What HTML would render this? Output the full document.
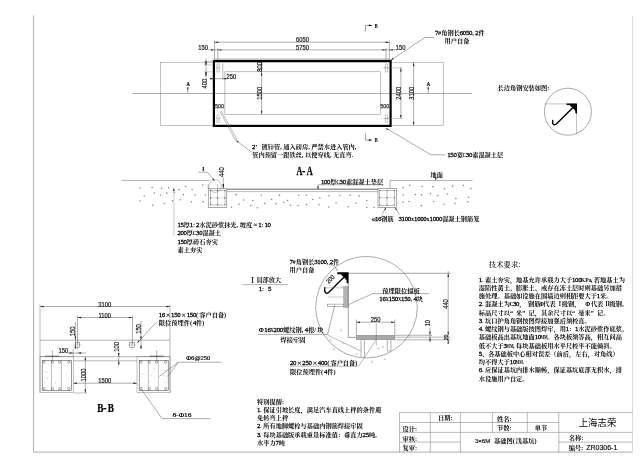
<!DOCTYPE html>
<html lang="zh"><head><meta charset="utf-8"><title>3×6M 基础图(浅基坑)</title>
<style>
html,body{margin:0;padding:0;background:#fff;}
svg{display:block;will-change:transform;}
text{white-space:pre;}
</style></head>
<body>
<svg width="640" height="464" viewBox="0 0 640 464">
<rect x="0" y="0" width="640" height="464" fill="#fff"/>
<line x1="33.60" y1="15.50" x2="33.60" y2="452.10" stroke="#adadad" stroke-width="1.0" />
<line x1="33.10" y1="452.10" x2="632.50" y2="452.10" stroke="#adadad" stroke-width="1.0" />
<line x1="632.50" y1="16.00" x2="632.50" y2="452.25" stroke="#d6d6d6" stroke-width="0.9" />
<rect x="160.50" y="62.20" width="283.00" height="63.30" fill="none" stroke="#858585" stroke-width="0.5"/>
<line x1="132.00" y1="93.50" x2="471.80" y2="93.50" stroke="#606060" stroke-width="0.5" />
<rect x="213.90" y="61.00" width="176.70" height="64.90" fill="none" stroke="#000" stroke-width="2.2"/>
<line x1="214.60" y1="59.00" x2="390.00" y2="59.00" stroke="#444" stroke-width="0.4" />
<rect x="224.90" y="71.80" width="155.50" height="42.50" fill="none" stroke="#808080" stroke-width="0.5"/>
<line x1="214.60" y1="40.50" x2="214.60" y2="60.00" stroke="#5a5a5a" stroke-width="0.5" />
<line x1="389.30" y1="40.50" x2="389.30" y2="60.00" stroke="#5a5a5a" stroke-width="0.5" />
<line x1="214.60" y1="42.20" x2="389.30" y2="42.20" stroke="#5a5a5a" stroke-width="0.5" />
<polygon points="214.60,42.20 218.20,41.48 218.20,42.92" fill="#111"/>
<polygon points="389.30,42.20 385.70,42.92 385.70,41.48" fill="#111"/>
<line x1="217.80" y1="48.00" x2="217.80" y2="60.00" stroke="#5a5a5a" stroke-width="0.5" />
<line x1="386.00" y1="48.00" x2="386.00" y2="60.00" stroke="#5a5a5a" stroke-width="0.5" />
<line x1="208.50" y1="49.90" x2="397.00" y2="49.90" stroke="#5a5a5a" stroke-width="0.5" />
<polygon points="214.60,49.90 211.00,50.62 211.00,49.18" fill="#111"/>
<polygon points="217.80,49.90 221.40,49.18 221.40,50.62" fill="#111"/>
<polygon points="386.00,49.90 382.40,50.62 382.40,49.18" fill="#111"/>
<polygon points="389.30,49.90 392.90,49.18 392.90,50.62" fill="#111"/>
<text transform="translate(302.50,39.60) scale(0.88,1)" x="0" y="2.38" font-size="6.6" text-anchor="middle" font-weight="400" font-family="'Liberation Sans','Noto Sans CJK SC',sans-serif" fill="#111" stroke="#111" stroke-width="0.18">6050</text>
<text transform="translate(302.50,47.50) scale(0.88,1)" x="0" y="2.38" font-size="6.6" text-anchor="middle" font-weight="400" font-family="'Liberation Sans','Noto Sans CJK SC',sans-serif" fill="#111" stroke="#111" stroke-width="0.18">5750</text>
<text transform="translate(203.20,47.60) scale(0.88,1)" x="0" y="2.38" font-size="6.6" text-anchor="middle" font-weight="400" font-family="'Liberation Sans','Noto Sans CJK SC',sans-serif" fill="#111" stroke="#111" stroke-width="0.18">150</text>
<text transform="translate(400.70,47.20) scale(0.88,1)" x="0" y="2.38" font-size="6.6" text-anchor="middle" font-weight="400" font-family="'Liberation Sans','Noto Sans CJK SC',sans-serif" fill="#111" stroke="#111" stroke-width="0.18">150</text>
<line x1="206.00" y1="58.50" x2="206.00" y2="79.00" stroke="#5a5a5a" stroke-width="0.5" />
<polygon points="206.00,61.20 206.72,64.80 205.28,64.80" fill="#111"/>
<polygon points="206.00,64.90 205.28,61.30 206.72,61.30" fill="#111"/>
<polygon points="206.00,71.80 206.72,75.40 205.28,75.40" fill="#111"/>
<polygon points="206.00,75.50 205.28,71.90 206.72,71.90" fill="#111"/>
<line x1="204.00" y1="61.20" x2="213.00" y2="61.20" stroke="#666" stroke-width="0.4" />
<line x1="204.00" y1="64.90" x2="212.00" y2="64.90" stroke="#888" stroke-width="0.4" />
<line x1="204.00" y1="71.80" x2="212.00" y2="71.80" stroke="#888" stroke-width="0.4" />
<text transform="translate(204.40,83.60) rotate(-90) scale(0.88,1)" x="0" y="2.38" font-size="6.6" text-anchor="middle" font-weight="400" font-family="'Liberation Sans','Noto Sans CJK SC',sans-serif" fill="#111" stroke="#111" stroke-width="0.18">400</text>
<line x1="222.80" y1="63.50" x2="222.80" y2="80.00" stroke="#555" stroke-width="0.4" />
<line x1="210.00" y1="78.70" x2="226.00" y2="78.70" stroke="#5a5a5a" stroke-width="0.5" />
<polygon points="213.80,78.70 210.20,79.42 210.20,77.98" fill="#111"/>
<polygon points="222.80,78.70 226.40,77.98 226.40,79.42" fill="#111"/>
<text transform="translate(231.30,76.60) scale(0.88,1)" x="0" y="2.38" font-size="6.6" text-anchor="middle" font-weight="400" font-family="'Liberation Sans','Noto Sans CJK SC',sans-serif" fill="#111" stroke="#111" stroke-width="0.18">250</text>
<line x1="217.00" y1="64.00" x2="217.00" y2="72.30" stroke="#666" stroke-width="0.4" />
<line x1="217.00" y1="115.00" x2="217.00" y2="122.50" stroke="#666" stroke-width="0.4" />
<line x1="219.20" y1="64.00" x2="219.20" y2="72.30" stroke="#666" stroke-width="0.4" />
<line x1="219.20" y1="115.00" x2="219.20" y2="122.50" stroke="#666" stroke-width="0.4" />
<line x1="385.40" y1="64.00" x2="385.40" y2="72.30" stroke="#666" stroke-width="0.4" />
<line x1="385.40" y1="115.00" x2="385.40" y2="122.50" stroke="#666" stroke-width="0.4" />
<line x1="387.60" y1="64.00" x2="387.60" y2="72.30" stroke="#666" stroke-width="0.4" />
<line x1="387.60" y1="115.00" x2="387.60" y2="122.50" stroke="#666" stroke-width="0.4" />
<line x1="215.50" y1="67.80" x2="220.70" y2="67.80" stroke="#888" stroke-width="0.35" />
<line x1="217.00" y1="63.80" x2="219.20" y2="63.80" stroke="#888" stroke-width="0.35" />
<line x1="217.00" y1="71.80" x2="219.20" y2="71.80" stroke="#888" stroke-width="0.35" />
<line x1="215.50" y1="118.50" x2="220.70" y2="118.50" stroke="#888" stroke-width="0.35" />
<line x1="217.00" y1="114.50" x2="219.20" y2="114.50" stroke="#888" stroke-width="0.35" />
<line x1="217.00" y1="122.50" x2="219.20" y2="122.50" stroke="#888" stroke-width="0.35" />
<line x1="383.90" y1="67.80" x2="389.10" y2="67.80" stroke="#888" stroke-width="0.35" />
<line x1="385.40" y1="63.80" x2="387.60" y2="63.80" stroke="#888" stroke-width="0.35" />
<line x1="385.40" y1="71.80" x2="387.60" y2="71.80" stroke="#888" stroke-width="0.35" />
<line x1="383.90" y1="118.50" x2="389.10" y2="118.50" stroke="#888" stroke-width="0.35" />
<line x1="385.40" y1="114.50" x2="387.60" y2="114.50" stroke="#888" stroke-width="0.35" />
<line x1="385.40" y1="122.50" x2="387.60" y2="122.50" stroke="#888" stroke-width="0.35" />
<line x1="261.60" y1="62.00" x2="261.60" y2="71.80" stroke="#5a5a5a" stroke-width="0.5" />
<polygon points="261.60,62.00 262.32,65.60 260.88,65.60" fill="#111"/>
<polygon points="261.60,71.80 260.88,68.20 262.32,68.20" fill="#111"/>
<line x1="261.60" y1="71.80" x2="261.60" y2="114.30" stroke="#5a5a5a" stroke-width="0.5" />
<polygon points="261.60,71.80 262.32,75.40 260.88,75.40" fill="#111"/>
<polygon points="261.60,114.30 260.88,110.70 262.32,110.70" fill="#111"/>
<text transform="translate(259.30,66.80) rotate(-90) scale(0.88,1)" x="0" y="2.38" font-size="6.6" text-anchor="middle" font-weight="400" font-family="'Liberation Sans','Noto Sans CJK SC',sans-serif" fill="#111" stroke="#111" stroke-width="0.18">800</text>
<text transform="translate(259.30,93.30) rotate(-90) scale(0.88,1)" x="0" y="2.38" font-size="6.6" text-anchor="middle" font-weight="400" font-family="'Liberation Sans','Noto Sans CJK SC',sans-serif" fill="#111" stroke="#111" stroke-width="0.18">1500</text>
<line x1="383.50" y1="67.80" x2="402.50" y2="67.80" stroke="#888" stroke-width="0.4" />
<line x1="383.50" y1="118.50" x2="402.50" y2="118.50" stroke="#888" stroke-width="0.4" />
<line x1="400.90" y1="67.80" x2="400.90" y2="118.50" stroke="#5a5a5a" stroke-width="0.5" />
<polygon points="400.90,67.80 401.62,71.40 400.18,71.40" fill="#111"/>
<polygon points="400.90,118.50 400.18,114.90 401.62,114.90" fill="#111"/>
<text transform="translate(398.60,93.30) rotate(-90) scale(0.88,1)" x="0" y="2.38" font-size="6.6" text-anchor="middle" font-weight="400" font-family="'Liberation Sans','Noto Sans CJK SC',sans-serif" fill="#111" stroke="#111" stroke-width="0.18">2400</text>
<line x1="413.60" y1="62.40" x2="413.60" y2="125.50" stroke="#5a5a5a" stroke-width="0.5" />
<polygon points="413.60,62.40 414.32,66.00 412.88,66.00" fill="#111"/>
<polygon points="413.60,125.50 412.88,121.90 414.32,121.90" fill="#111"/>
<text transform="translate(411.80,93.30) rotate(-90) scale(0.88,1)" x="0" y="2.38" font-size="6.6" text-anchor="middle" font-weight="400" font-family="'Liberation Sans','Noto Sans CJK SC',sans-serif" fill="#111" stroke="#111" stroke-width="0.18">3100</text>
<text transform="translate(219.60,105.70) scale(0.88,1)" x="0" y="2.23" font-size="6.2" text-anchor="middle" font-weight="400" font-family="'Liberation Sans','Noto Sans CJK SC',sans-serif" fill="#111" stroke="#111" stroke-width="0.18">500</text>
<text transform="translate(384.80,105.60) scale(0.88,1)" x="0" y="2.23" font-size="6.2" text-anchor="middle" font-weight="400" font-family="'Liberation Sans','Noto Sans CJK SC',sans-serif" fill="#111" stroke="#111" stroke-width="0.18">500</text>
<line x1="215.00" y1="108.30" x2="224.90" y2="108.30" stroke="#888" stroke-width="0.4" />
<line x1="380.40" y1="108.30" x2="389.50" y2="108.30" stroke="#888" stroke-width="0.4" />
<text transform="translate(188.10,84.00) scale(0.8,1)" x="0" y="2.09" font-size="5.8" text-anchor="middle" font-weight="700" font-family="'Liberation Serif','Noto Serif CJK SC',serif" fill="#000" stroke="#000" stroke-width="0.2">A</text>
<line x1="187.80" y1="86.80" x2="187.80" y2="93.50" stroke="#5a5a5a" stroke-width="0.5" />
<polygon points="187.80,90.40 187.10,87.40 188.50,87.40" fill="#111"/>
<text transform="translate(428.50,84.00) scale(0.8,1)" x="0" y="2.09" font-size="5.8" text-anchor="middle" font-weight="700" font-family="'Liberation Serif','Noto Serif CJK SC',serif" fill="#000" stroke="#000" stroke-width="0.2">A</text>
<line x1="428.20" y1="86.80" x2="428.20" y2="93.50" stroke="#5a5a5a" stroke-width="0.5" />
<polygon points="428.20,90.40 427.50,87.40 428.90,87.40" fill="#111"/>
<polyline points="365.40,31.60 365.40,25.40 369.50,25.40" fill="none" stroke="#444" stroke-width="0.55" />
<polygon points="372.70,25.40 368.90,26.20 368.90,24.60" fill="#000"/>
<text transform="translate(376.20,25.50) scale(0.7,1)" x="0" y="2.45" font-size="6.8" text-anchor="middle" font-weight="700" font-family="'Liberation Serif','Noto Serif CJK SC',serif" fill="#000" >B</text>
<polyline points="365.40,133.40 365.40,140.10 369.50,140.10" fill="none" stroke="#444" stroke-width="0.55" />
<polygon points="372.70,140.10 368.90,140.90 368.90,139.30" fill="#000"/>
<text transform="translate(376.20,139.60) scale(0.7,1)" x="0" y="2.45" font-size="6.8" text-anchor="middle" font-weight="700" font-family="'Liberation Serif','Noto Serif CJK SC',serif" fill="#000" >B</text>
<polyline points="391.00,60.00 425.00,37.50 434.00,37.50" fill="none" stroke="#5a5a5a" stroke-width="0.5" />
<polygon points="391.00,60.00 392.77,57.96 393.57,59.17" fill="#111"/>
<g transform="translate(435.00,32.60)" font-size="6.22" font-weight="700" font-family="'Liberation Serif','Noto Serif CJK SC',serif" fill="#000" >
<text x="-0.12" y="2.24" font-size="6.84" font-weight="400" stroke="#000" stroke-width="0.26">7</text>
<text x="3.11" y="2.24">#</text>
<text x="6.22 12.44 18.66" y="2.24 2.24 2.24">角钢长</text>
<text x="24.76 27.87 30.98 34.09" y="2.24" font-size="6.84" font-weight="400" stroke="#000" stroke-width="0.26">6050</text>
<text x="37.32" y="2.24">,</text>
<text x="40.31" y="2.24" font-size="6.84" font-weight="400" stroke="#000" stroke-width="0.26">2</text>
<text x="43.54" y="2.24">件</text>
</g>
<g transform="translate(457.00,40.40)" font-size="6.22" font-weight="700" font-family="'Liberation Serif','Noto Serif CJK SC',serif" fill="#000" >
<text x="-12.44 -6.22 0.00 6.22" y="2.24 2.24 2.24 2.24">用户自备</text>
</g>
<polyline points="386.00,128.20 431.00,154.80 445.50,154.80" fill="none" stroke="#5a5a5a" stroke-width="0.5" />
<polygon points="386.00,128.20 388.60,128.90 387.87,130.14" fill="#111"/>
<g transform="translate(447.30,154.80)" font-size="6.22" font-weight="700" font-family="'Liberation Serif','Noto Serif CJK SC',serif" fill="#000" >
<text x="-0.12 2.99 6.10" y="2.24" font-size="6.84" font-weight="400" stroke="#000" stroke-width="0.26">150</text>
<text x="9.33" y="2.24">宽</text>
<text x="15.30" y="2.24" textLength="3.61" lengthAdjust="spacingAndGlyphs">C</text>
<text x="18.54 21.65" y="2.24" font-size="6.84" font-weight="400" stroke="#000" stroke-width="0.26">30</text>
<text x="24.88 31.10 37.32 43.54 49.76" y="2.24 2.24 2.24 2.24 2.24">素混凝土层</text>
</g>
<line x1="220.00" y1="111.50" x2="235.30" y2="140.20" stroke="#666" stroke-width="0.45" />
<line x1="221.40" y1="111.00" x2="236.80" y2="139.40" stroke="#666" stroke-width="0.45" />
<line x1="235.30" y1="140.20" x2="236.80" y2="139.40" stroke="#666" stroke-width="0.45" />
<polyline points="236.20,140.60 250.00,151.00 251.50,151.00" fill="none" stroke="#5a5a5a" stroke-width="0.5" />
<polygon points="236.20,140.60 238.71,141.59 237.84,142.74" fill="#111"/>
<g transform="translate(252.20,146.80)" font-size="6.22" font-weight="700" font-family="'Liberation Serif','Noto Serif CJK SC',serif" fill="#000" >
<text x="-0.12" y="2.24" font-size="6.84" font-weight="400" stroke="#000" stroke-width="0.26">2</text>
<text x="3.11 6.22 9.33 15.55 21.77 27.99 31.10 37.32 43.54 49.76 55.98 59.09 65.31 71.53 77.75 83.97 90.19 96.41 102.63" y="2.24 2.24 2.24 2.24 2.24 2.24 2.24 2.24 2.24 2.24 2.24 2.24 2.24 2.24 2.24 2.24 2.24 2.24 2.24">’ 镀锌管,通入磅房,严禁水进入管内,</text>
</g>
<g transform="translate(252.20,154.60)" font-size="6.22" font-weight="700" font-family="'Liberation Serif','Noto Serif CJK SC',serif" fill="#000" >
<text x="0.00 6.22 12.44 18.66 24.88 31.10 37.32 43.54 49.76 52.87 59.09 65.31 71.53 77.75 80.86 87.08 93.30 99.52" y="2.24 2.24 2.24 2.24 2.24 2.24 2.24 2.24 2.24 2.24 2.24 2.24 2.24 2.24 2.24 2.24 2.24 2.24">管内预留一跟铁丝,以便穿线,无直弯.</text>
</g>
<g transform="translate(497.50,88.20)" font-size="6.22" font-weight="700" font-family="'Liberation Serif','Noto Serif CJK SC',serif" fill="#000" >
<text x="0.00 6.22 12.44 18.66 24.88 31.10 37.32 43.54 49.76" y="2.24 2.24 2.24 2.24 2.24 2.24 2.24 2.24 2.24">长边角钢安装如图:</text>
</g>
<circle cx="567.90" cy="111.70" r="23.50" fill="none" stroke="#555" stroke-width="0.5"/>
<polyline points="544.60,103.90 576.50,103.90 576.50,133.80" fill="none" stroke="#777" stroke-width="0.45" />
<polygon points="566.6,103.4 577,103.4 577,113.6 575.4,113.6 575.4,109.5 571,105 566.6,105" fill="#000"/>
<polygon points="568.5,104 576.6,104 576.6,112" fill="#000"/>
<path d="M575.2,105.2 L556.6,123.8 Q554.6,125.6 553.2,124 Q552.2,122.8 552.8,120.4" fill="none" stroke="#000" stroke-width="1.4" stroke-linecap="round"/>
<g transform="translate(304.60,170.70) scale(0.86,1)" font-size="12" font-weight="700" font-family="'Liberation Serif','Noto Serif CJK SC',serif" fill="#000" stroke="#000" stroke-width="0.25">
<text x="-9.48" y="4.32" textLength="6.96" lengthAdjust="spacingAndGlyphs">A</text>
<text x="-3.00" y="4.32">-</text>
<text x="2.52" y="4.32" textLength="6.96" lengthAdjust="spacingAndGlyphs">A</text>
</g>
<line x1="122.00" y1="180.50" x2="209.60" y2="180.50" stroke="#6a6a6a" stroke-width="0.5" />
<line x1="390.00" y1="180.50" x2="472.50" y2="180.50" stroke="#6a6a6a" stroke-width="0.5" />
<circle cx="215.00" cy="186.10" r="6.30" fill="none" stroke="#777" stroke-width="0.45"/>
<rect x="208.20" y="188.80" width="18.60" height="18.50" fill="none" stroke="#555" stroke-width="0.5"/>
<rect x="210.30" y="190.40" width="14.70" height="14.60" fill="none" stroke="#777" stroke-width="0.45"/>
<line x1="217.60" y1="184.00" x2="217.60" y2="205.00" stroke="#777" stroke-width="0.45" />
<line x1="210.30" y1="197.90" x2="225.00" y2="197.90" stroke="#999" stroke-width="0.4" />
<line x1="208.20" y1="184.50" x2="208.20" y2="188.80" stroke="#555" stroke-width="0.45" />
<circle cx="210.50" cy="190.60" r="0.55" fill="#333" stroke="none" stroke-width="0"/>
<circle cx="210.50" cy="197.90" r="0.55" fill="#333" stroke="none" stroke-width="0"/>
<circle cx="210.50" cy="204.80" r="0.55" fill="#333" stroke="none" stroke-width="0"/>
<circle cx="217.60" cy="190.60" r="0.55" fill="#333" stroke="none" stroke-width="0"/>
<circle cx="217.60" cy="197.90" r="0.55" fill="#333" stroke="none" stroke-width="0"/>
<circle cx="217.60" cy="204.80" r="0.55" fill="#333" stroke="none" stroke-width="0"/>
<circle cx="224.80" cy="190.60" r="0.55" fill="#333" stroke="none" stroke-width="0"/>
<circle cx="224.80" cy="197.90" r="0.55" fill="#333" stroke="none" stroke-width="0"/>
<circle cx="224.80" cy="204.80" r="0.55" fill="#333" stroke="none" stroke-width="0"/>
<line x1="226.80" y1="189.20" x2="378.00" y2="189.20" stroke="#555" stroke-width="0.9" />
<line x1="226.80" y1="191.60" x2="378.00" y2="191.60" stroke="#666" stroke-width="0.45" />
<rect x="378.00" y="188.60" width="18.30" height="18.70" fill="none" stroke="#555" stroke-width="0.5"/>
<rect x="379.60" y="190.30" width="15.00" height="15.00" fill="none" stroke="#777" stroke-width="0.45"/>
<line x1="387.00" y1="190.30" x2="387.00" y2="205.30" stroke="#777" stroke-width="0.45" />
<line x1="379.60" y1="197.80" x2="394.60" y2="197.80" stroke="#999" stroke-width="0.4" />
<line x1="390.00" y1="180.50" x2="390.00" y2="188.60" stroke="#555" stroke-width="0.45" />
<circle cx="379.80" cy="190.50" r="0.55" fill="#333" stroke="none" stroke-width="0"/>
<circle cx="379.80" cy="197.80" r="0.55" fill="#333" stroke="none" stroke-width="0"/>
<circle cx="379.80" cy="205.00" r="0.55" fill="#333" stroke="none" stroke-width="0"/>
<circle cx="387.00" cy="190.50" r="0.55" fill="#333" stroke="none" stroke-width="0"/>
<circle cx="387.00" cy="197.80" r="0.55" fill="#333" stroke="none" stroke-width="0"/>
<circle cx="387.00" cy="205.00" r="0.55" fill="#333" stroke="none" stroke-width="0"/>
<circle cx="394.40" cy="190.50" r="0.55" fill="#333" stroke="none" stroke-width="0"/>
<circle cx="394.40" cy="197.80" r="0.55" fill="#333" stroke="none" stroke-width="0"/>
<circle cx="394.40" cy="205.00" r="0.55" fill="#333" stroke="none" stroke-width="0"/>
<text transform="translate(203.30,168.60)" x="0" y="2.38" font-size="6.6" text-anchor="middle" font-weight="700" font-family="'Liberation Serif','Noto Serif CJK SC',serif" fill="#000" >I</text>
<polyline points="198.20,172.20 207.60,172.20 214.40,180.90" fill="none" stroke="#5a5a5a" stroke-width="0.5" />
<polygon points="214.40,180.90 212.29,179.37 213.43,178.49" fill="#111"/>
<line x1="223.30" y1="177.40" x2="223.30" y2="188.80" stroke="#5a5a5a" stroke-width="0.5" />
<polygon points="223.30,188.80 222.50,184.30 224.10,184.30" fill="#000"/>
<text transform="translate(221.20,172.20) rotate(-90) scale(0.88,1)" x="0" y="2.38" font-size="6.6" text-anchor="middle" font-weight="400" font-family="'Liberation Sans','Noto Sans CJK SC',sans-serif" fill="#111" stroke="#111" stroke-width="0.18">440</text>
<line x1="173.90" y1="188.00" x2="173.90" y2="236.00" stroke="#8a8a8a" stroke-width="0.45" />
<polygon points="173.90,187.50 174.60,190.90 173.20,190.90" fill="#111"/>
<g transform="translate(177.50,224.80)" font-size="6.22" font-weight="700" font-family="'Liberation Serif','Noto Serif CJK SC',serif" fill="#000" >
<text x="-0.12 2.99" y="2.24" font-size="6.84" font-weight="400" stroke="#000" stroke-width="0.26">15</text>
<text x="6.22" y="2.24">厚</text>
<text x="12.32" y="2.24" font-size="6.84" font-weight="400" stroke="#000" stroke-width="0.26">1</text>
<text x="15.55" y="2.24">:</text>
<text x="18.54" y="2.24" font-size="6.84" font-weight="400" stroke="#000" stroke-width="0.26">2</text>
<text x="21.77 27.99 34.21 40.43 46.65 52.87 59.09 62.20 68.42 75.88" y="2.24 2.24 2.24 2.24 2.24 2.24 2.24 2.24 2.24 2.24">水泥砂浆抹光,坡度≈</text>
<text x="80.74" y="2.24" font-size="6.84" font-weight="400" stroke="#000" stroke-width="0.26">1</text>
<text x="83.97" y="2.24">:</text>
<text x="86.96 90.07" y="2.24" font-size="6.84" font-weight="400" stroke="#000" stroke-width="0.26">10</text>
</g>
<g transform="translate(177.50,233.05)" font-size="6.22" font-weight="700" font-family="'Liberation Serif','Noto Serif CJK SC',serif" fill="#000" >
<text x="-0.12 2.99 6.10" y="2.24" font-size="6.84" font-weight="400" stroke="#000" stroke-width="0.26">200</text>
<text x="9.33" y="2.24">厚</text>
<text x="15.30" y="2.24" textLength="3.61" lengthAdjust="spacingAndGlyphs">C</text>
<text x="18.54 21.65" y="2.24" font-size="6.84" font-weight="400" stroke="#000" stroke-width="0.26">30</text>
<text x="24.88 31.10 37.32" y="2.24 2.24 2.24">混凝土</text>
</g>
<g transform="translate(177.50,241.30)" font-size="6.22" font-weight="700" font-family="'Liberation Serif','Noto Serif CJK SC',serif" fill="#000" >
<text x="-0.12 2.99 6.10" y="2.24" font-size="6.84" font-weight="400" stroke="#000" stroke-width="0.26">150</text>
<text x="9.33 15.55 21.77 27.99 34.21" y="2.24 2.24 2.24 2.24 2.24">厚碎石夯实</text>
</g>
<g transform="translate(177.50,249.55)" font-size="6.22" font-weight="700" font-family="'Liberation Serif','Noto Serif CJK SC',serif" fill="#000" >
<text x="0.00 6.22 12.44 18.66" y="2.24 2.24 2.24 2.24">素土夯实</text>
</g>
<g transform="translate(321.00,181.80)" font-size="6.22" font-weight="700" font-family="'Liberation Serif','Noto Serif CJK SC',serif" fill="#000" >
<text x="-0.12 2.99 6.10" y="2.24" font-size="6.84" font-weight="400" stroke="#000" stroke-width="0.26">100</text>
<text x="9.33" y="2.24">厚</text>
<text x="15.30" y="2.24" textLength="3.61" lengthAdjust="spacingAndGlyphs">C</text>
<text x="18.54 21.65" y="2.24" font-size="6.84" font-weight="400" stroke="#000" stroke-width="0.26">30</text>
<text x="24.88 31.10 37.32 43.54 49.76 55.98" y="2.24 2.24 2.24 2.24 2.24 2.24">素混凝土垫层</text>
</g>
<polyline points="318.00,189.00 318.00,184.80 383.60,184.80" fill="none" stroke="#5a5a5a" stroke-width="0.5" />
<polygon points="318.00,189.40 317.28,186.60 318.72,186.60" fill="#111"/>
<g transform="translate(436.80,174.80)" font-size="6.22" font-weight="700" font-family="'Liberation Serif','Noto Serif CJK SC',serif" fill="#000" >
<text x="-6.22 0.00" y="2.24 2.24">地面</text>
</g>
<polygon points="435.80,180.50 435.00,177.90 436.60,177.90" fill="#111"/>
<line x1="386.20" y1="207.30" x2="382.00" y2="214.20" stroke="#5a5a5a" stroke-width="0.5" />
<polygon points="386.20,207.30 385.15,210.17 384.12,209.55" fill="#111"/>
<line x1="395.00" y1="207.30" x2="399.40" y2="214.60" stroke="#5a5a5a" stroke-width="0.5" />
<polygon points="395.00,207.30 397.06,209.56 396.03,210.18" fill="#111"/>
<g transform="translate(372.00,219.20)" font-size="6.22" font-weight="700" font-family="'Liberation Serif','Noto Serif CJK SC',serif" fill="#000" >
<text x="0.00" y="2.24">φ</text>
<text x="2.99 6.10" y="2.24" font-size="6.84" font-weight="400" stroke="#000" stroke-width="0.26">16</text>
<text x="9.33 15.55" y="2.24 2.24">钢筋</text>
</g>
<g transform="translate(398.60,219.20)" font-size="6.22" font-weight="700" font-family="'Liberation Serif','Noto Serif CJK SC',serif" fill="#000" >
<text x="-0.12 2.99 6.10 9.21" y="2.24" font-size="6.84" font-weight="400" stroke="#000" stroke-width="0.26">3100</text>
<text x="12.44" y="2.24">x</text>
<text x="15.43 18.54 21.65 24.76" y="2.24" font-size="6.84" font-weight="400" stroke="#000" stroke-width="0.26">1000</text>
<text x="27.99" y="2.24">x</text>
<text x="30.98 34.09 37.20 40.31" y="2.24" font-size="6.84" font-weight="400" stroke="#000" stroke-width="0.26">1000</text>
<text x="43.54 49.76 55.98 62.20 68.42 74.64" y="2.24 2.24 2.24 2.24 2.24 2.24">混凝土钢筋笼</text>
</g>
<circle cx="139.85" cy="188.03" r="0.78" fill="#858585" stroke="none" stroke-width="0"/>
<circle cx="152.08" cy="187.46" r="0.78" fill="#858585" stroke="none" stroke-width="0"/>
<circle cx="161.48" cy="188.19" r="0.78" fill="#858585" stroke="none" stroke-width="0"/>
<circle cx="168.69" cy="187.74" r="0.78" fill="#858585" stroke="none" stroke-width="0"/>
<circle cx="178.92" cy="189.42" r="0.78" fill="#858585" stroke="none" stroke-width="0"/>
<circle cx="185.51" cy="186.49" r="0.78" fill="#858585" stroke="none" stroke-width="0"/>
<circle cx="192.08" cy="189.52" r="0.78" fill="#858585" stroke="none" stroke-width="0"/>
<circle cx="202.74" cy="184.92" r="0.78" fill="#858585" stroke="none" stroke-width="0"/>
<circle cx="144.20" cy="195.92" r="0.78" fill="#858585" stroke="none" stroke-width="0"/>
<circle cx="154.34" cy="192.94" r="0.78" fill="#858585" stroke="none" stroke-width="0"/>
<circle cx="160.39" cy="195.17" r="0.78" fill="#858585" stroke="none" stroke-width="0"/>
<circle cx="166.74" cy="193.14" r="0.78" fill="#858585" stroke="none" stroke-width="0"/>
<circle cx="174.34" cy="192.18" r="0.78" fill="#858585" stroke="none" stroke-width="0"/>
<circle cx="183.44" cy="194.64" r="0.78" fill="#858585" stroke="none" stroke-width="0"/>
<circle cx="195.12" cy="195.11" r="0.78" fill="#858585" stroke="none" stroke-width="0"/>
<circle cx="205.43" cy="195.00" r="0.78" fill="#858585" stroke="none" stroke-width="0"/>
<circle cx="139.89" cy="201.00" r="0.78" fill="#858585" stroke="none" stroke-width="0"/>
<circle cx="152.62" cy="205.31" r="0.78" fill="#858585" stroke="none" stroke-width="0"/>
<circle cx="164.28" cy="203.58" r="0.78" fill="#858585" stroke="none" stroke-width="0"/>
<circle cx="172.38" cy="200.71" r="0.78" fill="#858585" stroke="none" stroke-width="0"/>
<circle cx="180.29" cy="199.75" r="0.78" fill="#858585" stroke="none" stroke-width="0"/>
<circle cx="191.45" cy="201.74" r="0.78" fill="#858585" stroke="none" stroke-width="0"/>
<circle cx="203.16" cy="201.65" r="0.78" fill="#858585" stroke="none" stroke-width="0"/>
<circle cx="236.20" cy="194.63" r="0.78" fill="#858585" stroke="none" stroke-width="0"/>
<circle cx="243.58" cy="200.09" r="0.78" fill="#858585" stroke="none" stroke-width="0"/>
<circle cx="252.72" cy="200.51" r="0.78" fill="#858585" stroke="none" stroke-width="0"/>
<circle cx="261.38" cy="195.06" r="0.78" fill="#858585" stroke="none" stroke-width="0"/>
<circle cx="271.61" cy="199.30" r="0.78" fill="#858585" stroke="none" stroke-width="0"/>
<circle cx="279.39" cy="195.15" r="0.78" fill="#858585" stroke="none" stroke-width="0"/>
<circle cx="287.60" cy="200.41" r="0.78" fill="#858585" stroke="none" stroke-width="0"/>
<circle cx="298.71" cy="195.33" r="0.78" fill="#858585" stroke="none" stroke-width="0"/>
<circle cx="306.33" cy="195.23" r="0.78" fill="#858585" stroke="none" stroke-width="0"/>
<circle cx="312.69" cy="199.41" r="0.78" fill="#858585" stroke="none" stroke-width="0"/>
<circle cx="319.85" cy="197.98" r="0.78" fill="#858585" stroke="none" stroke-width="0"/>
<circle cx="328.84" cy="195.77" r="0.78" fill="#858585" stroke="none" stroke-width="0"/>
<circle cx="339.77" cy="195.41" r="0.78" fill="#858585" stroke="none" stroke-width="0"/>
<circle cx="350.10" cy="195.32" r="0.78" fill="#858585" stroke="none" stroke-width="0"/>
<circle cx="358.91" cy="195.90" r="0.78" fill="#858585" stroke="none" stroke-width="0"/>
<circle cx="366.69" cy="200.45" r="0.78" fill="#858585" stroke="none" stroke-width="0"/>
<circle cx="231.59" cy="207.18" r="0.78" fill="#858585" stroke="none" stroke-width="0"/>
<circle cx="238.97" cy="204.24" r="0.78" fill="#858585" stroke="none" stroke-width="0"/>
<circle cx="250.73" cy="205.73" r="0.78" fill="#858585" stroke="none" stroke-width="0"/>
<circle cx="257.36" cy="207.81" r="0.78" fill="#858585" stroke="none" stroke-width="0"/>
<circle cx="264.76" cy="203.42" r="0.78" fill="#858585" stroke="none" stroke-width="0"/>
<circle cx="275.96" cy="203.85" r="0.78" fill="#858585" stroke="none" stroke-width="0"/>
<circle cx="283.93" cy="202.32" r="0.78" fill="#858585" stroke="none" stroke-width="0"/>
<circle cx="290.49" cy="205.37" r="0.78" fill="#858585" stroke="none" stroke-width="0"/>
<circle cx="298.09" cy="205.48" r="0.78" fill="#858585" stroke="none" stroke-width="0"/>
<circle cx="306.57" cy="204.59" r="0.78" fill="#858585" stroke="none" stroke-width="0"/>
<circle cx="319.04" cy="204.78" r="0.78" fill="#858585" stroke="none" stroke-width="0"/>
<circle cx="328.90" cy="207.07" r="0.78" fill="#858585" stroke="none" stroke-width="0"/>
<circle cx="336.09" cy="202.80" r="0.78" fill="#858585" stroke="none" stroke-width="0"/>
<circle cx="348.22" cy="206.78" r="0.78" fill="#858585" stroke="none" stroke-width="0"/>
<circle cx="355.87" cy="203.01" r="0.78" fill="#858585" stroke="none" stroke-width="0"/>
<circle cx="366.85" cy="207.52" r="0.78" fill="#858585" stroke="none" stroke-width="0"/>
<circle cx="374.13" cy="207.58" r="0.78" fill="#858585" stroke="none" stroke-width="0"/>
<circle cx="403.13" cy="187.61" r="0.78" fill="#858585" stroke="none" stroke-width="0"/>
<circle cx="409.79" cy="185.32" r="0.78" fill="#858585" stroke="none" stroke-width="0"/>
<circle cx="422.28" cy="186.51" r="0.78" fill="#858585" stroke="none" stroke-width="0"/>
<circle cx="433.02" cy="186.63" r="0.78" fill="#858585" stroke="none" stroke-width="0"/>
<circle cx="444.57" cy="188.66" r="0.78" fill="#858585" stroke="none" stroke-width="0"/>
<circle cx="452.52" cy="186.14" r="0.78" fill="#858585" stroke="none" stroke-width="0"/>
<circle cx="463.37" cy="185.50" r="0.78" fill="#858585" stroke="none" stroke-width="0"/>
<circle cx="470.87" cy="188.44" r="0.78" fill="#858585" stroke="none" stroke-width="0"/>
<circle cx="403.22" cy="194.93" r="0.78" fill="#858585" stroke="none" stroke-width="0"/>
<circle cx="415.41" cy="194.47" r="0.78" fill="#858585" stroke="none" stroke-width="0"/>
<circle cx="421.47" cy="194.87" r="0.78" fill="#858585" stroke="none" stroke-width="0"/>
<circle cx="430.45" cy="193.61" r="0.78" fill="#858585" stroke="none" stroke-width="0"/>
<circle cx="437.60" cy="195.46" r="0.78" fill="#858585" stroke="none" stroke-width="0"/>
<circle cx="447.44" cy="194.04" r="0.78" fill="#858585" stroke="none" stroke-width="0"/>
<circle cx="455.85" cy="198.60" r="0.78" fill="#858585" stroke="none" stroke-width="0"/>
<circle cx="468.47" cy="197.19" r="0.78" fill="#858585" stroke="none" stroke-width="0"/>
<circle cx="402.97" cy="202.26" r="0.78" fill="#858585" stroke="none" stroke-width="0"/>
<circle cx="409.16" cy="201.52" r="0.78" fill="#858585" stroke="none" stroke-width="0"/>
<circle cx="421.30" cy="205.62" r="0.78" fill="#858585" stroke="none" stroke-width="0"/>
<circle cx="433.79" cy="201.54" r="0.78" fill="#858585" stroke="none" stroke-width="0"/>
<circle cx="444.07" cy="204.31" r="0.78" fill="#858585" stroke="none" stroke-width="0"/>
<circle cx="454.99" cy="203.33" r="0.78" fill="#858585" stroke="none" stroke-width="0"/>
<circle cx="467.73" cy="201.87" r="0.78" fill="#858585" stroke="none" stroke-width="0"/>
<line x1="40.00" y1="304.50" x2="40.00" y2="393.00" stroke="#707070" stroke-width="0.5" />
<line x1="170.00" y1="304.50" x2="170.00" y2="393.00" stroke="#707070" stroke-width="0.5" />
<line x1="40.00" y1="306.50" x2="170.00" y2="306.50" stroke="#5a5a5a" stroke-width="0.5" />
<polygon points="40.00,306.50 43.60,305.78 43.60,307.22" fill="#111"/>
<polygon points="170.00,306.50 166.40,307.22 166.40,305.78" fill="#111"/>
<text transform="translate(104.80,304.40) scale(0.88,1)" x="0" y="2.38" font-size="6.6" text-anchor="middle" font-weight="400" font-family="'Liberation Sans','Noto Sans CJK SC',sans-serif" fill="#111" stroke="#111" stroke-width="0.18">3100</text>
<line x1="77.50" y1="315.50" x2="77.50" y2="344.50" stroke="#5a5a5a" stroke-width="0.5" />
<line x1="132.50" y1="315.50" x2="132.50" y2="344.50" stroke="#5a5a5a" stroke-width="0.5" />
<line x1="77.50" y1="317.50" x2="132.50" y2="317.50" stroke="#5a5a5a" stroke-width="0.5" />
<polygon points="77.50,317.50 81.10,316.78 81.10,318.22" fill="#111"/>
<polygon points="132.50,317.50 128.90,318.22 128.90,316.78" fill="#111"/>
<text transform="translate(104.80,315.20) scale(0.88,1)" x="0" y="2.38" font-size="6.6" text-anchor="middle" font-weight="400" font-family="'Liberation Sans','Noto Sans CJK SC',sans-serif" fill="#111" stroke="#111" stroke-width="0.18">1100</text>
<line x1="40.00" y1="340.20" x2="170.00" y2="340.20" stroke="#606060" stroke-width="0.5" />
<line x1="40.00" y1="356.70" x2="170.00" y2="356.70" stroke="#686868" stroke-width="0.5" />
<line x1="73.20" y1="360.80" x2="137.00" y2="360.80" stroke="#707070" stroke-width="0.5" />
<text transform="translate(73.00,331.40) rotate(-90) scale(0.88,1)" x="0" y="2.38" font-size="6.6" text-anchor="middle" font-weight="400" font-family="'Liberation Sans','Noto Sans CJK SC',sans-serif" fill="#111" stroke="#111" stroke-width="0.18">150</text>
<line x1="75.40" y1="322.00" x2="75.40" y2="349.00" stroke="#5a5a5a" stroke-width="0.5" />
<polygon points="75.40,340.20 74.68,336.60 76.12,336.60" fill="#111"/>
<polygon points="75.40,344.60 76.12,348.20 74.68,348.20" fill="#111"/>
<text transform="translate(139.00,329.00) rotate(-90) scale(0.88,1)" x="0" y="2.38" font-size="6.6" text-anchor="middle" font-weight="400" font-family="'Liberation Sans','Noto Sans CJK SC',sans-serif" fill="#111" stroke="#111" stroke-width="0.18">150</text>
<line x1="141.00" y1="321.00" x2="141.00" y2="349.00" stroke="#5a5a5a" stroke-width="0.5" />
<polygon points="141.00,340.20 140.28,336.60 141.72,336.60" fill="#111"/>
<polygon points="141.00,344.60 141.72,348.20 140.28,348.20" fill="#111"/>
<rect x="75.30" y="342.60" width="4.40" height="5.00" fill="none" stroke="#444" stroke-width="0.45"/>
<line x1="73.50" y1="345.00" x2="81.50" y2="345.00" stroke="#777" stroke-width="0.35" />
<line x1="77.50" y1="340.50" x2="77.50" y2="350.00" stroke="#777" stroke-width="0.35" />
<rect x="129.80" y="342.60" width="4.40" height="5.00" fill="none" stroke="#444" stroke-width="0.45"/>
<line x1="128.00" y1="345.00" x2="136.00" y2="345.00" stroke="#777" stroke-width="0.35" />
<line x1="132.00" y1="340.50" x2="132.00" y2="350.00" stroke="#777" stroke-width="0.35" />
<text transform="translate(63.40,351.00) scale(0.88,1)" x="0" y="2.38" font-size="6.6" text-anchor="middle" font-weight="400" font-family="'Liberation Sans','Noto Sans CJK SC',sans-serif" fill="#111" stroke="#111" stroke-width="0.18">150</text>
<line x1="68.00" y1="353.00" x2="86.00" y2="353.00" stroke="#5a5a5a" stroke-width="0.5" />
<polygon points="73.20,353.00 69.60,353.72 69.60,352.28" fill="#111"/>
<polygon points="77.50,353.00 81.10,352.28 81.10,353.72" fill="#111"/>
<line x1="73.20" y1="349.00" x2="73.20" y2="356.70" stroke="#555" stroke-width="0.4" />
<text transform="translate(116.80,346.80) rotate(-90) scale(0.88,1)" x="0" y="2.38" font-size="6.6" text-anchor="middle" font-weight="400" font-family="'Liberation Sans','Noto Sans CJK SC',sans-serif" fill="#111" stroke="#111" stroke-width="0.18">100</text>
<line x1="118.80" y1="352.60" x2="118.80" y2="365.60" stroke="#5a5a5a" stroke-width="0.5" />
<polygon points="118.80,356.70 118.08,353.10 119.52,353.10" fill="#111"/>
<polygon points="118.80,360.60 119.52,364.20 118.08,364.20" fill="#111"/>
<rect x="40.00" y="356.70" width="33.20" height="35.90" fill="none" stroke="#777" stroke-width="0.45"/>
<rect x="42.20" y="360.40" width="29.20" height="30.20" fill="none" stroke="#333" stroke-width="0.5"/>
<line x1="51.49" y1="360.40" x2="51.49" y2="390.60" stroke="#666" stroke-width="0.4" />
<line x1="61.51" y1="360.40" x2="61.51" y2="390.60" stroke="#666" stroke-width="0.4" />
<circle cx="44.08" cy="362.00" r="1.20" fill="none" stroke="#333" stroke-width="0.4"/>
<circle cx="44.08" cy="388.60" r="1.20" fill="none" stroke="#333" stroke-width="0.4"/>
<circle cx="52.38" cy="362.00" r="1.20" fill="none" stroke="#333" stroke-width="0.4"/>
<circle cx="52.38" cy="388.60" r="1.20" fill="none" stroke="#333" stroke-width="0.4"/>
<circle cx="59.69" cy="362.00" r="1.20" fill="none" stroke="#333" stroke-width="0.4"/>
<circle cx="59.69" cy="388.60" r="1.20" fill="none" stroke="#333" stroke-width="0.4"/>
<circle cx="68.78" cy="362.00" r="1.20" fill="none" stroke="#333" stroke-width="0.4"/>
<circle cx="68.78" cy="388.60" r="1.20" fill="none" stroke="#333" stroke-width="0.4"/>
<circle cx="55.56" cy="382.68" r="0.45" fill="#777" stroke="none" stroke-width="0"/>
<circle cx="44.80" cy="371.37" r="0.45" fill="#777" stroke="none" stroke-width="0"/>
<circle cx="68.24" cy="378.62" r="0.45" fill="#777" stroke="none" stroke-width="0"/>
<circle cx="47.23" cy="372.62" r="0.45" fill="#777" stroke="none" stroke-width="0"/>
<circle cx="66.17" cy="374.37" r="0.45" fill="#777" stroke="none" stroke-width="0"/>
<circle cx="44.72" cy="383.03" r="0.45" fill="#777" stroke="none" stroke-width="0"/>
<circle cx="47.27" cy="378.18" r="0.45" fill="#777" stroke="none" stroke-width="0"/>
<rect x="137.00" y="356.70" width="33.00" height="35.90" fill="none" stroke="#777" stroke-width="0.45"/>
<rect x="139.20" y="360.40" width="29.00" height="30.20" fill="none" stroke="#333" stroke-width="0.5"/>
<line x1="148.42" y1="360.40" x2="148.42" y2="390.60" stroke="#666" stroke-width="0.4" />
<line x1="158.38" y1="360.40" x2="158.38" y2="390.60" stroke="#666" stroke-width="0.4" />
<circle cx="141.06" cy="362.00" r="1.20" fill="none" stroke="#333" stroke-width="0.4"/>
<circle cx="141.06" cy="388.60" r="1.20" fill="none" stroke="#333" stroke-width="0.4"/>
<circle cx="149.31" cy="362.00" r="1.20" fill="none" stroke="#333" stroke-width="0.4"/>
<circle cx="149.31" cy="388.60" r="1.20" fill="none" stroke="#333" stroke-width="0.4"/>
<circle cx="156.57" cy="362.00" r="1.20" fill="none" stroke="#333" stroke-width="0.4"/>
<circle cx="156.57" cy="388.60" r="1.20" fill="none" stroke="#333" stroke-width="0.4"/>
<circle cx="165.61" cy="362.00" r="1.20" fill="none" stroke="#333" stroke-width="0.4"/>
<circle cx="165.61" cy="388.60" r="1.20" fill="none" stroke="#333" stroke-width="0.4"/>
<circle cx="142.81" cy="373.79" r="0.45" fill="#777" stroke="none" stroke-width="0"/>
<circle cx="165.76" cy="370.39" r="0.45" fill="#777" stroke="none" stroke-width="0"/>
<circle cx="149.72" cy="381.59" r="0.45" fill="#777" stroke="none" stroke-width="0"/>
<circle cx="163.50" cy="375.79" r="0.45" fill="#777" stroke="none" stroke-width="0"/>
<circle cx="165.04" cy="381.95" r="0.45" fill="#777" stroke="none" stroke-width="0"/>
<circle cx="154.14" cy="368.59" r="0.45" fill="#777" stroke="none" stroke-width="0"/>
<circle cx="151.68" cy="375.85" r="0.45" fill="#777" stroke="none" stroke-width="0"/>
<line x1="52.40" y1="350.20" x2="52.40" y2="361.40" stroke="#555" stroke-width="0.45" />
<line x1="45.40" y1="356.20" x2="59.40" y2="356.20" stroke="#444" stroke-width="0.8" />
<line x1="156.70" y1="350.20" x2="156.70" y2="361.40" stroke="#555" stroke-width="0.45" />
<line x1="149.70" y1="356.20" x2="163.70" y2="356.20" stroke="#444" stroke-width="0.8" />
<line x1="85.30" y1="356.70" x2="85.30" y2="393.00" stroke="#5a5a5a" stroke-width="0.5" />
<polygon points="85.30,356.70 86.02,360.30 84.58,360.30" fill="#111"/>
<polygon points="85.30,393.00 84.58,389.40 86.02,389.40" fill="#111"/>
<text transform="translate(83.20,375.00) rotate(-90) scale(0.88,1)" x="0" y="2.38" font-size="6.6" text-anchor="middle" font-weight="400" font-family="'Liberation Sans','Noto Sans CJK SC',sans-serif" fill="#111" stroke="#111" stroke-width="0.18">1000</text>
<line x1="73.20" y1="393.00" x2="87.00" y2="393.00" stroke="#666" stroke-width="0.4" />
<line x1="73.20" y1="383.20" x2="137.00" y2="383.20" stroke="#5a5a5a" stroke-width="0.5" />
<polygon points="73.20,383.20 76.80,382.48 76.80,383.92" fill="#111"/>
<polygon points="137.00,383.20 133.40,383.92 133.40,382.48" fill="#111"/>
<text transform="translate(104.80,380.60) scale(0.88,1)" x="0" y="2.38" font-size="6.6" text-anchor="middle" font-weight="400" font-family="'Liberation Sans','Noto Sans CJK SC',sans-serif" fill="#111" stroke="#111" stroke-width="0.18">1500</text>
<g transform="translate(105.60,407.40) scale(0.88,1)" font-size="12" font-weight="700" font-family="'Liberation Serif','Noto Serif CJK SC',serif" fill="#000" stroke="#000" stroke-width="0.25">
<text x="-9.48" y="4.32" textLength="6.96" lengthAdjust="spacingAndGlyphs">B</text>
<text x="-3.00" y="4.32">-</text>
<text x="2.52" y="4.32" textLength="6.96" lengthAdjust="spacingAndGlyphs">B</text>
</g>
<polyline points="137.20,342.80 157.00,321.70" fill="none" stroke="#5a5a5a" stroke-width="0.5" />
<polygon points="137.20,342.80 138.45,340.41 139.50,341.39" fill="#111"/>
<g transform="translate(158.80,315.20)" font-size="6.22" font-weight="700" font-family="'Liberation Serif','Noto Serif CJK SC',serif" fill="#000" >
<text x="-0.12 2.99" y="2.24" font-size="6.84" font-weight="400" stroke="#000" stroke-width="0.26">16</text>
<text x="6.97" y="2.86"><tspan font-size="8.40">×</tspan></text>
<text x="12.32 15.43 18.54" y="2.24" font-size="6.84" font-weight="400" stroke="#000" stroke-width="0.26">150</text>
<text x="22.52" y="2.86"><tspan font-size="8.40">×</tspan></text>
<text x="27.87 30.98 34.09" y="2.24" font-size="6.84" font-weight="400" stroke="#000" stroke-width="0.26">150</text>
<text x="37.32 40.43 46.65 52.87 59.09 65.31" y="2.24 2.24 2.24 2.24 2.24 2.24">(客户自备)</text>
</g>
<g transform="translate(158.80,323.20)" font-size="6.22" font-weight="700" font-family="'Liberation Serif','Noto Serif CJK SC',serif" fill="#000" >
<text x="0.00 6.22 12.44 18.66 24.88 31.10" y="2.24 2.24 2.24 2.24 2.24 2.24">限位预埋件(</text>
<text x="34.09" y="2.24" font-size="6.84" font-weight="400" stroke="#000" stroke-width="0.26">4</text>
<text x="37.32 43.54" y="2.24 2.24">件)</text>
</g>
<line x1="178.50" y1="362.20" x2="221.20" y2="362.20" stroke="#5a5a5a" stroke-width="0.5" />
<line x1="178.50" y1="362.20" x2="159.30" y2="376.40" stroke="#5a5a5a" stroke-width="0.5" />
<line x1="178.50" y1="362.20" x2="167.60" y2="376.40" stroke="#5a5a5a" stroke-width="0.5" />
<text transform="translate(186.30,357.50) scale(0.94,1)" x="0" y="2.52" font-size="7.0" text-anchor="start" font-weight="400" font-family="'Liberation Serif','Noto Serif CJK SC',serif" fill="#000" stroke="#000" stroke-width="0.2">Φ6@250</text>
<polyline points="141.20,389.20 162.00,418.60 210.50,418.60" fill="none" stroke="#5a5a5a" stroke-width="0.5" />
<text transform="translate(172.50,414.40) scale(1.06,1)" x="0" y="2.52" font-size="7.0" text-anchor="start" font-weight="400" font-family="'Liberation Serif','Noto Serif CJK SC',serif" fill="#000" stroke="#000" stroke-width="0.2">8-Φ16</text>
<text transform="translate(252.60,280.00)" x="0" y="2.88" font-size="8" text-anchor="middle" font-weight="400" font-family="'Liberation Serif','Noto Serif CJK SC',serif" fill="#000" stroke="#000" stroke-width="0.2">I</text>
<g transform="translate(256.40,280.20)" font-size="6.22" font-weight="700" font-family="'Liberation Serif','Noto Serif CJK SC',serif" fill="#000" >
<text x="0.00 6.22 12.44 18.66" y="2.24 2.24 2.24 2.24">局部放大</text>
</g>
<line x1="242.50" y1="284.60" x2="288.00" y2="284.60" stroke="#707070" stroke-width="0.5" />
<g transform="translate(258.80,288.40)" font-size="6.2" font-weight="700" font-family="'Liberation Serif','Noto Serif CJK SC',serif" fill="#000" >
<text x="-0.12" y="2.23" font-size="6.82" font-weight="400" stroke="#000" stroke-width="0.26">1</text>
<text x="3.10 6.20" y="2.23 2.23">: </text>
<text x="9.18" y="2.23" font-size="6.82" font-weight="400" stroke="#000" stroke-width="0.26">5</text>
</g>
<g transform="translate(289.50,261.60)" font-size="6.22" font-weight="700" font-family="'Liberation Serif','Noto Serif CJK SC',serif" fill="#000" >
<text x="-0.12" y="2.24" font-size="6.84" font-weight="400" stroke="#000" stroke-width="0.26">7</text>
<text x="3.11" y="2.24">#</text>
<text x="6.22 12.44 18.66" y="2.24 2.24 2.24">角钢长</text>
<text x="24.76 27.87 30.98 34.09" y="2.24" font-size="6.84" font-weight="400" stroke="#000" stroke-width="0.26">3100</text>
<text x="37.32" y="2.24">,</text>
<text x="40.31" y="2.24" font-size="6.84" font-weight="400" stroke="#000" stroke-width="0.26">2</text>
<text x="43.54" y="2.24">件</text>
</g>
<g transform="translate(289.50,270.00)" font-size="6.22" font-weight="700" font-family="'Liberation Serif','Noto Serif CJK SC',serif" fill="#000" >
<text x="0.00 6.22 12.44 18.66" y="2.24 2.24 2.24 2.24">用户自备</text>
</g>
<path d="M328.5,264.4 Q333,264.6 334.6,266.4 T337.6,271.2" fill="none" stroke="#333" stroke-width="0.5"/>
<circle cx="366.50" cy="307.20" r="50.80" fill="none" stroke="#555" stroke-width="0.5"/>
<line x1="348.00" y1="273.30" x2="450.50" y2="273.30" stroke="#444" stroke-width="0.5" />
<polygon points="337.2,272.2 348.6,272.2 348.6,283.2 346.6,283.2 346.6,279 341.8,274.2 337.2,274.2" fill="#000"/>
<polygon points="339.5,273 348,273 348,281.5" fill="#000"/>
<path d="M345.6,275.6 L328.9,292.3 Q327,294 325.4,292.4 Q324,291 324.9,287.6" fill="none" stroke="#000" stroke-width="1.35" stroke-linecap="round"/>
<text transform="translate(330.30,279.20) rotate(-45) scale(0.88,1)" x="0" y="2.23" font-size="6.2" text-anchor="middle" font-weight="400" font-family="'Liberation Sans','Noto Sans CJK SC',sans-serif" fill="#111" stroke="#111" stroke-width="0.18">200</text>
<rect x="343.70" y="286.30" width="4.40" height="21.30" fill="#b4b4b4" stroke="#888" stroke-width="0.4"/>
<line x1="348.30" y1="283.00" x2="348.30" y2="337.40" stroke="#444" stroke-width="0.5" />
<line x1="325.60" y1="287.80" x2="343.70" y2="287.80" stroke="#888" stroke-width="0.45" />
<line x1="327.80" y1="297.00" x2="343.70" y2="297.00" stroke="#888" stroke-width="0.45" />
<rect x="327.40" y="304.10" width="16.30" height="2.20" fill="none" stroke="#666" stroke-width="0.45"/>
<polyline points="348.30,304.80 372.80,293.60 428.80,293.60" fill="none" stroke="#5a5a5a" stroke-width="0.5" />
<g transform="translate(401.00,290.30)" font-size="6.22" font-weight="700" font-family="'Liberation Serif','Noto Serif CJK SC',serif" fill="#000" >
<text x="-18.66 -12.44 -6.22 -0.00 6.22 12.44" y="2.24 2.24 2.24 2.24 2.24 2.24">预埋限位撞板</text>
</g>
<g transform="translate(401.20,298.40)" font-size="6.22" font-weight="700" font-family="'Liberation Serif','Noto Serif CJK SC',serif" fill="#000" >
<text x="-21.89 -18.78" y="2.24" font-size="6.84" font-weight="400" stroke="#000" stroke-width="0.26">16</text>
<text x="-15.80" y="2.24" textLength="3.61" lengthAdjust="spacingAndGlyphs">X</text>
<text x="-12.56 -9.45 -6.34" y="2.24" font-size="6.84" font-weight="400" stroke="#000" stroke-width="0.26">150</text>
<text x="-3.36" y="2.24" textLength="3.61" lengthAdjust="spacingAndGlyphs">X</text>
<text x="-0.12 2.99 6.10" y="2.24" font-size="6.84" font-weight="400" stroke="#000" stroke-width="0.26">150</text>
<text x="9.33" y="2.24">,</text>
<text x="12.32" y="2.24" font-size="6.84" font-weight="400" stroke="#000" stroke-width="0.26">4</text>
<text x="15.55" y="2.24">块</text>
</g>
<polyline points="258.00,334.40 327.60,334.40 334.80,305.00" fill="none" stroke="#5a5a5a" stroke-width="0.5" />
<g transform="translate(258.80,330.00)" font-size="6.22" font-weight="700" font-family="'Liberation Serif','Noto Serif CJK SC',serif" fill="#000" >
<text x="0.00" y="2.24">Φ</text>
<text x="5.47 8.58" y="2.24" font-size="6.84" font-weight="400" stroke="#000" stroke-width="0.26">16</text>
<text x="11.57" y="2.24" textLength="3.61" lengthAdjust="spacingAndGlyphs">X</text>
<text x="14.80 17.91 21.02" y="2.24" font-size="6.84" font-weight="400" stroke="#000" stroke-width="0.26">200</text>
<text x="24.26 30.48 36.70 42.92" y="2.24 2.24 2.24 2.24">螺纹钢,</text>
<text x="45.90" y="2.24" font-size="6.84" font-weight="400" stroke="#000" stroke-width="0.26">4</text>
<text x="49.14 55.36 58.47" y="2.24 2.24 2.24">根/块</text>
</g>
<g transform="translate(293.00,340.20)" font-size="6.22" font-weight="700" font-family="'Liberation Serif','Noto Serif CJK SC',serif" fill="#000" >
<text x="-12.44 -6.22 0.00 6.22" y="2.24 2.24 2.24 2.24">焊接牢固</text>
</g>
<line x1="356.40" y1="319.50" x2="356.40" y2="335.00" stroke="#5a5a5a" stroke-width="0.5" />
<line x1="394.80" y1="319.50" x2="394.80" y2="335.00" stroke="#5a5a5a" stroke-width="0.5" />
<line x1="356.40" y1="322.20" x2="394.80" y2="322.20" stroke="#5a5a5a" stroke-width="0.5" />
<polygon points="356.40,322.20 360.00,321.48 360.00,322.92" fill="#111"/>
<polygon points="394.80,322.20 391.20,322.92 391.20,321.48" fill="#111"/>
<text transform="translate(375.60,319.60) scale(0.88,1)" x="0" y="2.38" font-size="6.6" text-anchor="middle" font-weight="400" font-family="'Liberation Sans','Noto Sans CJK SC',sans-serif" fill="#111" stroke="#111" stroke-width="0.18">250</text>
<rect x="356.40" y="335.20" width="38.40" height="4.60" fill="#a8a8a8" stroke="#777" stroke-width="0.4"/>
<polyline points="348.30,337.40 356.40,337.40" fill="none" stroke="#444" stroke-width="0.5" />
<line x1="394.80" y1="335.30" x2="432.00" y2="335.30" stroke="#555" stroke-width="0.45" />
<line x1="394.80" y1="337.20" x2="450.50" y2="337.20" stroke="#555" stroke-width="0.45" />
<line x1="394.80" y1="339.80" x2="450.50" y2="339.80" stroke="#555" stroke-width="0.45" />
<line x1="376.30" y1="323.40" x2="376.30" y2="345.80" stroke="#555" stroke-width="0.4" />
<line x1="361.00" y1="339.80" x2="361.00" y2="357.40" stroke="#555" stroke-width="0.45" />
<line x1="364.40" y1="339.80" x2="364.40" y2="357.40" stroke="#555" stroke-width="0.45" />
<line x1="387.30" y1="339.80" x2="387.30" y2="351.00" stroke="#555" stroke-width="0.45" />
<line x1="390.90" y1="339.80" x2="390.90" y2="351.00" stroke="#555" stroke-width="0.45" />
<line x1="387.30" y1="351.00" x2="390.90" y2="351.00" stroke="#666" stroke-width="0.4" />
<line x1="327.60" y1="335.00" x2="360.60" y2="351.00" stroke="#666" stroke-width="0.45" />
<polygon points="341,329.1 342,330.8 340,330.8" fill="none" stroke="#888" stroke-width="0.3"/>
<polygon points="343.5,342.1 344.5,343.8 342.5,343.8" fill="none" stroke="#888" stroke-width="0.3"/>
<polygon points="334,348.1 335,349.8 333,349.8" fill="none" stroke="#888" stroke-width="0.3"/>
<polygon points="356.5,353.1 357.5,354.8 355.5,354.8" fill="none" stroke="#888" stroke-width="0.3"/>
<polygon points="378.5,347.1 379.5,348.8 377.5,348.8" fill="none" stroke="#888" stroke-width="0.3"/>
<polygon points="383,345.6 384,347.3 382,347.3" fill="none" stroke="#888" stroke-width="0.3"/>
<polygon points="385,358.1 386,359.8 384,359.8" fill="none" stroke="#888" stroke-width="0.3"/>
<polygon points="372,360.6 373,362.3 371,362.3" fill="none" stroke="#888" stroke-width="0.3"/>
<polygon points="330.5,339.1 331.5,340.8 329.5,340.8" fill="none" stroke="#888" stroke-width="0.3"/>
<polyline points="376.00,340.00 362.70,360.40 358.60,366.20 290.00,366.20" fill="none" stroke="#666" stroke-width="0.45" />
<g transform="translate(290.00,363.00)" font-size="6.22" font-weight="700" font-family="'Liberation Serif','Noto Serif CJK SC',serif" fill="#000" >
<text x="-0.12 2.99" y="2.24" font-size="6.84" font-weight="400" stroke="#000" stroke-width="0.26">20</text>
<text x="6.97" y="2.86"><tspan font-size="8.40">×</tspan></text>
<text x="12.32 15.43 18.54" y="2.24" font-size="6.84" font-weight="400" stroke="#000" stroke-width="0.26">250</text>
<text x="22.52" y="2.86"><tspan font-size="8.40">×</tspan></text>
<text x="27.87 30.98 34.09" y="2.24" font-size="6.84" font-weight="400" stroke="#000" stroke-width="0.26">400</text>
<text x="37.32 40.43 46.65 52.87 59.09 65.31" y="2.24 2.24 2.24 2.24 2.24 2.24">(客户自备)</text>
</g>
<g transform="translate(290.00,371.40)" font-size="6.22" font-weight="700" font-family="'Liberation Serif','Noto Serif CJK SC',serif" fill="#000" >
<text x="0.00 6.22 12.44 18.66 24.88 31.10" y="2.24 2.24 2.24 2.24 2.24 2.24">限位预埋件(</text>
<text x="34.09" y="2.24" font-size="6.84" font-weight="400" stroke="#000" stroke-width="0.26">4</text>
<text x="37.32 43.54" y="2.24 2.24">件)</text>
</g>
<line x1="448.20" y1="271.00" x2="448.20" y2="343.60" stroke="#5a5a5a" stroke-width="0.5" />
<polygon points="448.20,273.30 448.92,276.90 447.48,276.90" fill="#111"/>
<polygon points="448.20,335.30 447.48,331.70 448.92,331.70" fill="#111"/>
<polygon points="448.20,339.80 448.92,343.40 447.48,343.40" fill="#111"/>
<text transform="translate(445.80,304.00) rotate(-90) scale(0.88,1)" x="0" y="2.38" font-size="6.6" text-anchor="middle" font-weight="400" font-family="'Liberation Sans','Noto Sans CJK SC',sans-serif" fill="#111" stroke="#111" stroke-width="0.18">440</text>
<text transform="translate(445.80,337.60) rotate(-90) scale(0.88,1)" x="0" y="2.23" font-size="6.2" text-anchor="middle" font-weight="400" font-family="'Liberation Sans','Noto Sans CJK SC',sans-serif" fill="#111" stroke="#111" stroke-width="0.18">20</text>
<line x1="430.00" y1="327.50" x2="430.00" y2="342.00" stroke="#5a5a5a" stroke-width="0.5" />
<polygon points="430.00,335.30 429.28,331.70 430.72,331.70" fill="#111"/>
<polygon points="430.00,337.20 430.72,340.80 429.28,340.80" fill="#111"/>
<text transform="translate(427.60,323.20) rotate(-90) scale(0.88,1)" x="0" y="2.30" font-size="6.4" text-anchor="middle" font-weight="400" font-family="'Liberation Sans','Noto Sans CJK SC',sans-serif" fill="#111" stroke="#111" stroke-width="0.18">10</text>
<g transform="translate(257.00,401.30)" font-size="6.22" font-weight="700" font-family="'Liberation Serif','Noto Serif CJK SC',serif" fill="#000" >
<text x="0.00 6.22 12.44 18.66 24.88" y="2.24 2.24 2.24 2.24 2.24">特别提醒:</text>
</g>
<g transform="translate(257.00,409.55)" font-size="6.22" font-weight="700" font-family="'Liberation Serif','Noto Serif CJK SC',serif" fill="#000" >
<text x="-0.12" y="2.24" font-size="6.84" font-weight="400" stroke="#000" stroke-width="0.26">1</text>
<text x="3.11 6.22 12.44 18.66 24.88 31.10 37.32 43.54 49.76 55.98 62.20 68.42 74.64 80.86 87.08 93.30 99.52 105.74 111.96 118.18" y="2.24 2.24 2.24 2.24 2.24 2.24 2.24 2.24 2.24 2.24 2.24 2.24 2.24 2.24 2.24 2.24 2.24 2.24 2.24 2.24">.保证引坡长度，满足汽车直线上秤的条件避</text>
</g>
<g transform="translate(257.00,417.80)" font-size="6.22" font-weight="700" font-family="'Liberation Serif','Noto Serif CJK SC',serif" fill="#000" >
<text x="0.00 6.22 12.44 18.66 24.88" y="2.24 2.24 2.24 2.24 2.24">免转弯上秤</text>
</g>
<g transform="translate(257.00,426.05)" font-size="6.22" font-weight="700" font-family="'Liberation Serif','Noto Serif CJK SC',serif" fill="#000" >
<text x="-0.12" y="2.24" font-size="6.84" font-weight="400" stroke="#000" stroke-width="0.26">2</text>
<text x="3.11 6.22 12.44 18.66 24.88 31.10 37.32 43.54 49.76 55.98 62.20 68.42 74.64 80.86 87.08 93.30 99.52" y="2.24 2.24 2.24 2.24 2.24 2.24 2.24 2.24 2.24 2.24 2.24 2.24 2.24 2.24 2.24 2.24 2.24">.所有地脚螺栓与基础内钢筋焊接牢固</text>
</g>
<g transform="translate(257.00,434.30)" font-size="6.22" font-weight="700" font-family="'Liberation Serif','Noto Serif CJK SC',serif" fill="#000" >
<text x="-0.12" y="2.24" font-size="6.84" font-weight="400" stroke="#000" stroke-width="0.26">3</text>
<text x="3.11 6.22 12.44 18.66 24.88 31.10 37.32 43.54 49.76 55.98 62.20 68.42 74.64 80.86 87.08 93.30 99.52" y="2.24 2.24 2.24 2.24 2.24 2.24 2.24 2.24 2.24 2.24 2.24 2.24 2.24 2.24 2.24 2.24 2.24">.每块基础版承载重量标准值：垂直力</text>
<text x="105.62 108.73" y="2.24" font-size="6.84" font-weight="400" stroke="#000" stroke-width="0.26">25</text>
<text x="111.96 118.18" y="2.24 2.24">吨,</text>
</g>
<g transform="translate(257.00,442.55)" font-size="6.22" font-weight="700" font-family="'Liberation Serif','Noto Serif CJK SC',serif" fill="#000" >
<text x="0.00 6.22 12.44" y="2.24 2.24 2.24">水平力</text>
<text x="18.54" y="2.24" font-size="6.84" font-weight="400" stroke="#000" stroke-width="0.26">7</text>
<text x="21.77" y="2.24">吨</text>
</g>
<g transform="translate(488.80,264.60)" font-size="7.4" font-weight="500" font-family="'Liberation Serif','Noto Serif CJK SC',serif" fill="#000" >
<text x="0.00 7.40 14.80 22.20 29.60" y="2.66 2.66 2.66 2.66 2.66">技术要求:</text>
</g>
<g transform="translate(478.80,279.30)" font-size="6.22" font-weight="700" font-family="'Liberation Serif','Noto Serif CJK SC',serif" fill="#000" >
<text x="-0.12" y="2.24" font-size="6.84" font-weight="400" stroke="#000" stroke-width="0.26">1</text>
<text x="3.11 6.22 12.44 18.66 24.88 31.10 37.32 43.54 49.76 55.98 62.20 68.42 74.64 80.86 87.08" y="2.24 2.24 2.24 2.24 2.24 2.24 2.24 2.24 2.24 2.24 2.24 2.24 2.24 2.24 2.24">.素土夯实，地基允许承载力大于</text>
<text x="93.18 96.29 99.40" y="2.24" font-size="6.84" font-weight="400" stroke="#000" stroke-width="0.26">100</text>
<text x="101.88" y="2.24" textLength="10.82" lengthAdjust="spacingAndGlyphs">KPa</text>
<text x="111.96 115.07 121.29 127.51 133.73 139.95" y="2.24 2.24 2.24 2.24 2.24 2.24">,若地基土为</text>
</g>
<g transform="translate(478.80,287.55)" font-size="6.22" font-weight="700" font-family="'Liberation Serif','Noto Serif CJK SC',serif" fill="#000" >
<text x="0.00 6.22 12.44 18.66 24.88 31.10 37.32 43.54 49.76 55.98 62.20 68.42 74.64 80.86 87.08 93.30 99.52 105.74 111.96 118.18 124.40 130.62 136.84" y="2.24 2.24 2.24 2.24 2.24 2.24 2.24 2.24 2.24 2.24 2.24 2.24 2.24 2.24 2.24 2.24 2.24 2.24 2.24 2.24 2.24 2.24 2.24">湿陷性黄土、膨胀土、或存在冻土层时则基础另加措</text>
</g>
<g transform="translate(478.80,295.80)" font-size="6.22" font-weight="700" font-family="'Liberation Serif','Noto Serif CJK SC',serif" fill="#000" >
<text x="0.00 6.22 12.44 18.66 24.88 31.10 37.32 43.54 49.76 55.98 62.20 68.42 74.64 80.86 87.08 93.30 99.52 105.74 111.96" y="2.24 2.24 2.24 2.24 2.24 2.24 2.24 2.24 2.24 2.24 2.24 2.24 2.24 2.24 2.24 2.24 2.24 2.24 2.24">施处理。基础如设施在围墙边则相距要大于</text>
<text x="118.06" y="2.24" font-size="6.84" font-weight="400" stroke="#000" stroke-width="0.26">1</text>
<text x="121.29 127.51" y="2.24 2.24">米。</text>
</g>
<g transform="translate(478.80,304.05)" font-size="6.22" font-weight="700" font-family="'Liberation Serif','Noto Serif CJK SC',serif" fill="#000" >
<text x="-0.12" y="2.24" font-size="6.84" font-weight="400" stroke="#000" stroke-width="0.26">2</text>
<text x="3.11 6.22 12.44 18.66 24.88" y="2.24 2.24 2.24 2.24 2.24">.混凝土为</text>
<text x="30.85" y="2.24" textLength="3.61" lengthAdjust="spacingAndGlyphs">C</text>
<text x="34.09 37.20" y="2.24" font-size="6.84" font-weight="400" stroke="#000" stroke-width="0.26">30</text>
<text x="40.43" y="2.24">，</text>
</g>
<g transform="translate(528.00,304.05)" font-size="6.22" font-weight="700" font-family="'Liberation Serif','Noto Serif CJK SC',serif" fill="#000" >
<text x="0.00 6.22" y="2.24 2.24">钢筋</text>
</g>
<text transform="translate(539.60,304.05)" x="0" y="1.87" font-size="5.2" text-anchor="start" font-weight="700" font-family="'Liberation Serif','Noto Serif CJK SC',serif" fill="#000" >Φ</text>
<g transform="translate(543.20,304.05)" font-size="6.22" font-weight="700" font-family="'Liberation Serif','Noto Serif CJK SC',serif" fill="#000" >
<text x="0.00 6.22 13.68 18.66 24.88 31.10" y="2.24 2.24 2.24 2.24 2.24 2.24">代表Ⅰ级钢，</text>
</g>
<text transform="translate(585.20,304.05)" x="0" y="2.16" font-size="6.0" text-anchor="start" font-weight="700" font-family="'Liberation Serif','Noto Serif CJK SC',serif" fill="#000" >Φ</text>
<g transform="translate(590.90,304.05)" font-size="6.22" font-weight="700" font-family="'Liberation Serif','Noto Serif CJK SC',serif" fill="#000" >
<text x="0.00 6.22 13.68 18.66 24.88 31.10" y="2.24 2.24 2.24 2.24 2.24 2.24">代表Ⅱ级钢。</text>
</g>
<g transform="translate(478.80,312.30)" font-size="6.22" font-weight="700" font-family="'Liberation Serif','Noto Serif CJK SC',serif" fill="#000" >
<text x="0.00 6.22 12.44 18.66 24.88 31.10 37.32 43.54 49.76 55.98 62.20 68.42 74.64 80.86 87.08 93.30 99.52 105.74 111.96 118.18 124.40" y="2.24 2.24 2.24 2.24 2.24 2.24 2.24 2.24 2.24 2.24 2.24 2.24 2.24 2.24 2.24 2.24 2.24 2.24 2.24 2.24 2.24">标高尺寸以“米”记，其余尺寸以“毫米”记。</text>
</g>
<g transform="translate(478.80,320.55)" font-size="6.22" font-weight="700" font-family="'Liberation Serif','Noto Serif CJK SC',serif" fill="#000" >
<text x="-0.12" y="2.24" font-size="6.84" font-weight="400" stroke="#000" stroke-width="0.26">3</text>
<text x="3.11 6.22 12.44 18.66 24.88 31.10 37.32 43.54 49.76 55.98 62.20 68.42 74.64 80.86 87.08 93.30 99.52 105.74" y="2.24 2.24 2.24 2.24 2.24 2.24 2.24 2.24 2.24 2.24 2.24 2.24 2.24 2.24 2.24 2.24 2.24 2.24">.坑口护角角钢按图焊接加强后须校直。</text>
</g>
<g transform="translate(478.80,328.80)" font-size="6.22" font-weight="700" font-family="'Liberation Serif','Noto Serif CJK SC',serif" fill="#000" >
<text x="-0.12" y="2.24" font-size="6.84" font-weight="400" stroke="#000" stroke-width="0.26">4</text>
<text x="3.11 6.22 12.44 18.66 24.88 31.10 37.32 43.54 49.76 55.98 62.20 68.42 74.64 80.86" y="2.24 2.24 2.24 2.24 2.24 2.24 2.24 2.24 2.24 2.24 2.24 2.24 2.24 2.24">.螺纹钢与基础版按图焊牢，用</text>
<text x="86.96" y="2.24" font-size="6.84" font-weight="400" stroke="#000" stroke-width="0.26">1</text>
<text x="90.19" y="2.24">：</text>
<text x="96.29" y="2.24" font-size="6.84" font-weight="400" stroke="#000" stroke-width="0.26">1</text>
<text x="99.52 105.74 111.96 118.18 124.40 130.62 136.84 143.06" y="2.24 2.24 2.24 2.24 2.24 2.24 2.24 2.24">水泥砂浆作底浆。</text>
</g>
<g transform="translate(478.80,337.05)" font-size="6.22" font-weight="700" font-family="'Liberation Serif','Noto Serif CJK SC',serif" fill="#000" >
<text x="0.00 6.22 12.44 18.66 24.88 31.10 37.32 43.54 49.76" y="2.24 2.24 2.24 2.24 2.24 2.24 2.24 2.24 2.24">基础板高出基坑地面</text>
<text x="55.86 58.97" y="2.24" font-size="6.84" font-weight="400" stroke="#000" stroke-width="0.26">10</text>
<text x="61.70" y="2.24" textLength="7.22" lengthAdjust="spacingAndGlyphs">MM</text>
<text x="68.42 74.64 80.86 87.08 93.30 99.52 105.74 111.96 118.18 124.40 130.62 136.84" y="2.24 2.24 2.24 2.24 2.24 2.24 2.24 2.24 2.24 2.24 2.24 2.24">。各块板须等高，相互间高</text>
</g>
<g transform="translate(478.80,345.30)" font-size="6.22" font-weight="700" font-family="'Liberation Serif','Noto Serif CJK SC',serif" fill="#000" >
<text x="0.00 6.22 12.44 18.66" y="2.24 2.24 2.24 2.24">低不大于</text>
<text x="24.76" y="2.24" font-size="6.84" font-weight="400" stroke="#000" stroke-width="0.26">3</text>
<text x="27.49" y="2.24" textLength="7.22" lengthAdjust="spacingAndGlyphs">MM</text>
<text x="34.21 37.32 43.54 49.76 55.98 62.20 68.42 74.64 80.86 87.08 93.30 99.52 105.74 111.96 118.18 124.40 130.62" y="2.24 2.24 2.24 2.24 2.24 2.24 2.24 2.24 2.24 2.24 2.24 2.24 2.24 2.24 2.24 2.24 2.24">,每块基础板用水平尺校平不能倾斜。</text>
</g>
<g transform="translate(478.80,353.55)" font-size="6.22" font-weight="700" font-family="'Liberation Serif','Noto Serif CJK SC',serif" fill="#000" >
<text x="-0.12" y="2.24" font-size="6.84" font-weight="400" stroke="#000" stroke-width="0.26">5</text>
<text x="3.11 9.33 15.55 21.77 27.99 34.21 40.43 46.65 52.87 59.09 65.31 71.53 77.75 83.97 90.19 96.41 102.63 108.85 115.07 121.29 127.51 133.73" y="2.24 2.24 2.24 2.24 2.24 2.24 2.24 2.24 2.24 2.24 2.24 2.24 2.24 2.24 2.24 2.24 2.24 2.24 2.24 2.24 2.24 2.24">、各基础板中心相对误差（前后，左右，对角线）</text>
</g>
<g transform="translate(478.80,361.80)" font-size="6.22" font-weight="700" font-family="'Liberation Serif','Noto Serif CJK SC',serif" fill="#000" >
<text x="0.00 6.22 12.44 18.66 24.88" y="2.24 2.24 2.24 2.24 2.24">均不得大于</text>
<text x="30.98 34.09" y="2.24" font-size="6.84" font-weight="400" stroke="#000" stroke-width="0.26">10</text>
<text x="36.82" y="2.24" textLength="7.22" lengthAdjust="spacingAndGlyphs">MM</text>
<text x="43.54" y="2.24">.</text>
</g>
<g transform="translate(478.80,370.05)" font-size="6.22" font-weight="700" font-family="'Liberation Serif','Noto Serif CJK SC',serif" fill="#000" >
<text x="-0.12" y="2.24" font-size="6.84" font-weight="400" stroke="#000" stroke-width="0.26">6</text>
<text x="3.11 6.22 12.44 18.66 24.88 31.10 37.32 43.54 49.76 55.98 62.20 68.42 74.64 80.86 87.08 93.30 99.52 105.74 111.96 118.18 124.40 130.62 136.84" y="2.24 2.24 2.24 2.24 2.24 2.24 2.24 2.24 2.24 2.24 2.24 2.24 2.24 2.24 2.24 2.24 2.24 2.24 2.24 2.24 2.24 2.24 2.24">.应保证基坑内排水顺畅，保证基坑底部无积水，排</text>
</g>
<g transform="translate(478.80,378.30)" font-size="6.22" font-weight="700" font-family="'Liberation Serif','Noto Serif CJK SC',serif" fill="#000" >
<text x="0.00 6.22 12.44 18.66 24.88 31.10 37.32 43.54" y="2.24 2.24 2.24 2.24 2.24 2.24 2.24 2.24">水设施用户自定。</text>
</g>
<line x1="399.50" y1="412.60" x2="632.50" y2="412.60" stroke="#8c8c8c" stroke-width="0.6" />
<line x1="399.50" y1="412.60" x2="399.50" y2="452.10" stroke="#8c8c8c" stroke-width="0.6" />
<line x1="399.50" y1="422.50" x2="558.80" y2="422.50" stroke="#8c8c8c" stroke-width="0.6" />
<line x1="399.50" y1="432.40" x2="632.50" y2="432.40" stroke="#8c8c8c" stroke-width="0.6" />
<line x1="399.50" y1="442.10" x2="460.40" y2="442.10" stroke="#8c8c8c" stroke-width="0.6" />
<line x1="558.80" y1="442.10" x2="632.50" y2="442.10" stroke="#8c8c8c" stroke-width="0.6" />
<line x1="430.30" y1="412.60" x2="430.30" y2="452.10" stroke="#8c8c8c" stroke-width="0.6" />
<line x1="460.40" y1="412.60" x2="460.40" y2="452.10" stroke="#8c8c8c" stroke-width="0.6" />
<line x1="492.40" y1="412.60" x2="492.40" y2="432.40" stroke="#8c8c8c" stroke-width="0.6" />
<line x1="527.30" y1="412.60" x2="527.30" y2="432.40" stroke="#8c8c8c" stroke-width="0.6" />
<line x1="558.80" y1="412.60" x2="558.80" y2="452.10" stroke="#8c8c8c" stroke-width="0.6" />
<g transform="translate(438.00,418.00)" font-size="6.22" font-weight="700" font-family="'Liberation Serif','Noto Serif CJK SC',serif" fill="#000" >
<text x="0.00 6.22 12.44" y="2.24 2.24 2.24">日期:</text>
</g>
<g transform="translate(402.50,428.50)" font-size="6.22" font-weight="700" font-family="'Liberation Serif','Noto Serif CJK SC',serif" fill="#000" >
<text x="0.00 6.22 12.44" y="2.24 2.24 2.24">设计:</text>
</g>
<g transform="translate(402.50,438.50)" font-size="6.22" font-weight="700" font-family="'Liberation Serif','Noto Serif CJK SC',serif" fill="#000" >
<text x="0.00 6.22 12.44" y="2.24 2.24 2.24">审核:</text>
</g>
<g transform="translate(402.50,447.60)" font-size="6.22" font-weight="700" font-family="'Liberation Serif','Noto Serif CJK SC',serif" fill="#000" >
<text x="0.00 6.22 12.44" y="2.24 2.24 2.24">复审:</text>
</g>
<g transform="translate(497.00,418.80)" font-size="6.22" font-weight="700" font-family="'Liberation Serif','Noto Serif CJK SC',serif" fill="#000" >
<text x="0.00 6.22 12.44" y="2.24 2.24 2.24">姓名:</text>
</g>
<g transform="translate(497.00,427.60)" font-size="6.22" font-weight="700" font-family="'Liberation Serif','Noto Serif CJK SC',serif" fill="#000" >
<text x="0.00 6.22 12.44" y="2.24 2.24 2.24">节数:</text>
</g>
<g transform="translate(541.00,427.60)" font-size="6.22" font-weight="700" font-family="'Liberation Serif','Noto Serif CJK SC',serif" fill="#000" >
<text x="-6.22 0.00" y="2.24 2.24">单节</text>
</g>
<text transform="translate(474.90,441.10) scale(0.98,1)" x="0" y="2.23" font-size="6.2" text-anchor="start" font-weight="400" font-family="'Liberation Sans','Noto Sans CJK SC',sans-serif" fill="#111" stroke="#111" stroke-width="0.18">3×6M</text>
<g transform="translate(494.10,441.20)" font-size="6.22" font-weight="700" font-family="'Liberation Serif','Noto Serif CJK SC',serif" fill="#000" >
<text x="0.00 6.22 12.44 18.66 21.77 27.99 34.21 40.43" y="2.24 2.24 2.24 2.24 2.24 2.24 2.24 2.24">基础图(浅基坑)</text>
</g>
<g transform="translate(597.50,422.60)" font-size="9.4" font-weight="400" font-family="'Liberation Sans','Noto Sans CJK SC',sans-serif" fill="#000" >
<text x="-18.80 -9.40 0.00 9.40" y="3.38 3.38 3.38 3.38">上海志荣</text>
</g>
<g transform="translate(568.80,437.30)" font-size="6.22" font-weight="700" font-family="'Liberation Serif','Noto Serif CJK SC',serif" fill="#000" >
<text x="0.00 6.22 12.44" y="2.24 2.24 2.24">名称:</text>
</g>
<g transform="translate(568.80,448.00)" font-size="6.22" font-weight="700" font-family="'Liberation Serif','Noto Serif CJK SC',serif" fill="#000" >
<text x="0.00 6.22 12.44" y="2.24 2.24 2.24">编号:</text>
</g>
<text transform="translate(586.20,447.60)" x="0" y="2.52" font-size="7" text-anchor="start" font-weight="400" font-family="'Liberation Sans','Noto Sans CJK SC',sans-serif" fill="#111" stroke="#111" stroke-width="0.18">ZR0306-1</text>
</svg>
</body></html>
